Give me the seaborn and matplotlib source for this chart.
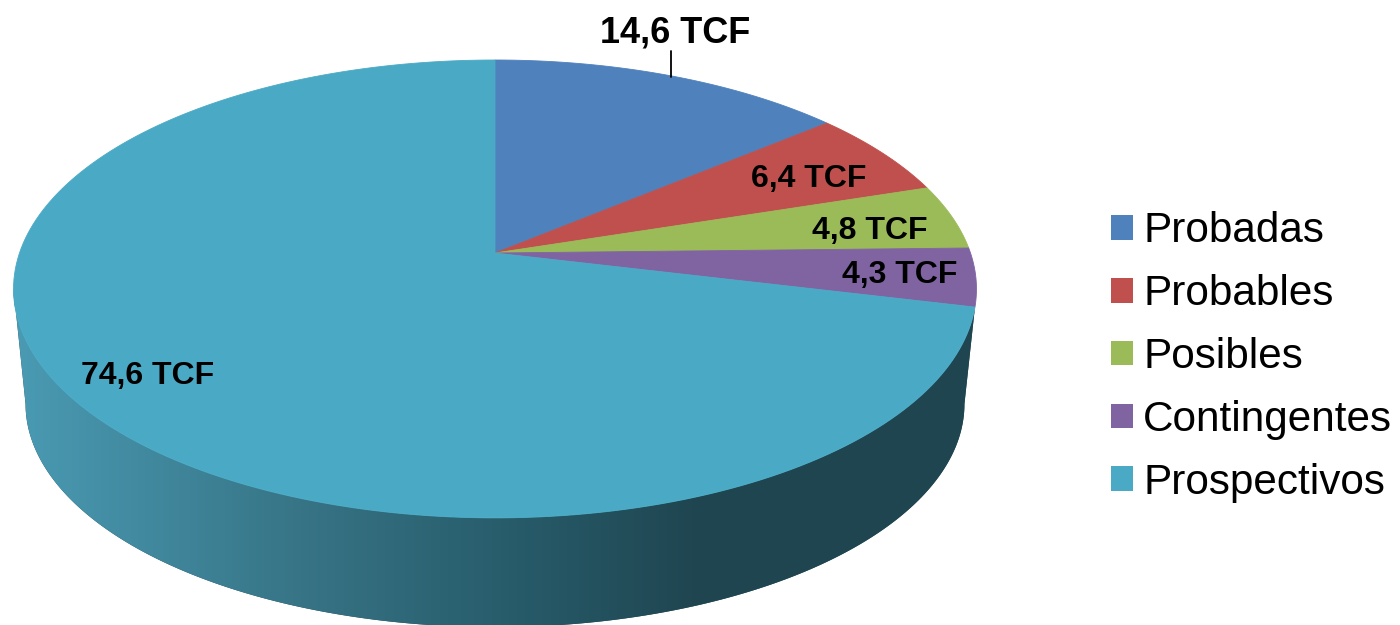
import numpy as np
import seaborn as sns
import matplotlib.pyplot as plt
from matplotlib.patches import Patch

categories = ['Probadas', 'Probables', 'Posibles', 'Contingentes', 'Prospectivos']
values = [14.6, 6.4, 4.8, 4.3, 74.6]
value_labels = ['14,6 TCF', '6,4 TCF', '4,8 TCF', '4,3 TCF', '74,6 TCF']
colors = ['#4F81BD', '#C0504D', '#9BBB59', '#8064A2', '#4AAAC5']

sns.set_theme(style='white')
plt.rcParams['font.family'] = ['Liberation Sans', 'DejaVu Sans']

# perspective of the tilted disc, everything below is in image pixels
cx, cy = 495, 253
k = 0.157
a, b = 475.5, 223.3
rim_cy, base_cy, base_scale = 289, 404, 0.975


def top(theta):
    t = np.radians(theta)
    d = 1 + k * np.sin(t)
    return cx + a * np.cos(t) / d, cy - b * np.sin(t) / d


def base(theta):
    x, y = top(theta)
    return cx + base_scale * (x - cx), base_cy + base_scale * (y - rim_cy)


fig, ax = plt.subplots(figsize=(14, 6.25), dpi=100)
fig.subplots_adjust(0, 0, 1, 1)

wedges, _ = ax.pie(values, colors=colors, startangle=90, counterclock=False)
ax.set_aspect('auto')

# side wall, shaded from left to right
widest = np.degrees(np.arcsin(k))
last = wedges[-1]
end = max(last.theta1, last.theta2)
start = -180 + widest
rim_x, rim_y = top(np.linspace(start, end, 300))
low_x, low_y = base(np.linspace(start, -widest, 300))
wall, = ax.fill(np.r_[rim_x, low_x[::-1]], np.r_[rim_y, low_y[::-1]],
                color='#1F4550', lw=0)

grad_x = np.arange(0, 1000)
stops_x = [12, 300, 500, 700, 1000]
stops_rgb = np.array([[74, 155, 180], [55, 116, 134], [40, 93, 108],
                      [31, 69, 80], [31, 69, 80]]) / 255
grad = np.stack([np.interp(grad_x, stops_x, stops_rgb[:, i]) for i in range(3)], axis=1)
img = ax.imshow(grad[np.newaxis, :, :], extent=(0, 1000, 625, 0), aspect='auto', zorder=2)
img.set_clip_path(wall)

# top face, wedge angles come from the pie itself
for w, c in zip(wedges, colors):
    th = np.linspace(w.theta1, w.theta2, 200)
    x, y = top(th)
    ax.fill(np.r_[cx, x], np.r_[cy, y], color=c, lw=0.6, zorder=3)
    w.set_visible(False)

label_x = [675, 809, 870, 900, 148]
label_y = [33, 179, 231, 275, 376]
label_size = [26, 23, 23, 23, 23]
for s, x, y, fs in zip(value_labels, label_x, label_y, label_size):
    ax.text(x, y, s, ha='center', va='center', fontsize=fs, fontweight='bold',
            color='black', zorder=5)
ax.plot([671, 671], [51, 77], color='black', lw=1.3, zorder=5)

handles = [Patch(color=c, lw=0) for c in colors]
ax.legend(handles, categories, loc='center left', bbox_to_anchor=(1111 / 1400, 1 - 357 / 625),
          frameon=False, fontsize=30.4, labelcolor='black', handlelength=0.52, handleheight=0.52,
          handletextpad=0.24, labelspacing=0.54, borderpad=0, borderaxespad=0)

ax.set_xlim(0, 1400)
ax.set_ylim(625, 0)
ax.axis('off')

fig.savefig('out.png', dpi=100)
